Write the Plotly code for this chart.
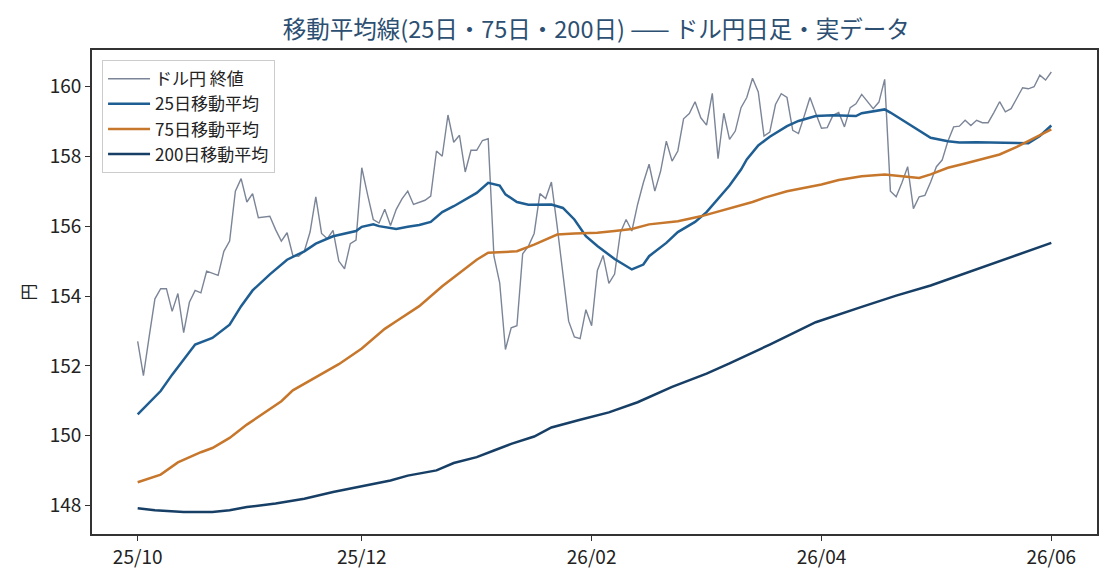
"""
Moving average chart for USD/JPY daily closes
25 / 75 / 200 day lines over the close
"""
import plotly.graph_objects as go

# ドル円 日足終値 (one value per trading day, 25/10 -> 26/06)
close = [
    152.70, 151.72, 152.84, 153.92, 154.21, 154.21, 153.56, 154.07, 152.95, 153.82,
    154.16, 154.09, 154.71, 154.64, 154.59, 155.28, 155.57, 157.00, 157.36, 156.69,
    156.93, 156.24, 156.25, 156.28, 155.90, 155.57, 155.81, 155.16, 155.14, 155.28,
    155.83, 156.84, 155.79, 155.64, 155.88, 155.00, 154.78, 155.50, 155.60, 157.67,
    156.91, 156.19, 156.09, 156.48, 156.02, 156.48, 156.78, 157.00, 156.62, 156.69,
    156.74, 156.86, 158.15, 158.00, 159.18, 158.40, 158.60, 157.55, 158.17, 158.17,
    158.45, 158.50, 155.14, 154.38, 152.47, 153.09, 153.15, 155.21, 155.43, 155.79,
    156.93, 156.79, 157.26, 156.00, 154.71, 153.28, 152.83, 152.78, 153.61, 153.15,
    154.73, 155.16, 154.36, 154.63, 155.81, 156.19, 155.86, 156.62, 157.24, 157.77,
    157.00, 157.57, 158.43, 157.86, 158.15, 159.07, 159.22, 159.56, 159.10, 158.89,
    159.80, 157.93, 159.23, 158.48, 158.72, 159.39, 159.68, 160.23, 159.84, 158.58,
    158.69, 159.48, 159.79, 159.68, 158.74, 158.65, 159.15, 159.68, 159.23, 158.80,
    158.82, 159.17, 159.25, 158.84, 159.39, 159.50, 159.77, 159.58, 159.36, 159.55,
    160.20, 157.00, 156.84, 157.24, 157.70, 156.50, 156.84, 156.88, 157.26, 157.70,
    157.89, 158.43, 158.84, 158.86, 159.03, 158.88, 159.03, 158.96, 158.96, 159.25,
    159.56, 159.27, 159.36, 159.66, 159.96, 159.93, 159.99, 160.32, 160.18, 160.41,
]

# 25日移動平均 (day index, value)
ma25_day = [0, 4, 6, 8, 10, 13, 16, 18, 20, 23, 26, 29, 31, 34, 36, 38, 39, 41, 42, 45,
            47, 49, 51, 53, 55, 57, 59, 61, 63, 64, 66, 68, 72, 74, 76, 78, 80, 83, 86, 88,
            89, 92, 94, 97, 99, 103, 105, 106, 108, 110, 113, 115, 118, 121, 125, 126, 128,
            130, 131, 133, 134, 136, 138, 141, 143, 146, 150, 153, 155, 157, 159]
ma25 = [150.61, 151.28, 151.75, 152.18, 152.61, 152.80, 153.18, 153.71, 154.16, 154.62,
        155.04, 155.28, 155.50, 155.71, 155.78, 155.86, 155.98, 156.05, 156.00, 155.92,
        155.98, 156.03, 156.12, 156.40, 156.57, 156.76, 156.95, 157.24, 157.16, 156.91,
        156.69, 156.61, 156.62, 156.52, 156.19, 155.71, 155.43, 155.06, 154.76, 154.90,
        155.14, 155.52, 155.83, 156.12, 156.40, 157.16, 157.62, 157.91, 158.31, 158.56,
        158.86, 159.01, 159.15, 159.17, 159.15, 159.23, 159.29, 159.34, 159.25, 159.05,
        158.94, 158.75, 158.53, 158.43, 158.39, 158.40, 158.39, 158.37, 158.37, 158.58,
        158.88]

# 75日移動平均
ma75_day = [0, 4, 7, 11, 13, 16, 19, 22, 25, 27, 30, 35, 39, 43, 45, 49, 53, 56, 59, 61,
            66, 69, 73, 76, 80, 83, 86, 89, 94, 98, 102, 107, 109, 113, 119, 122, 126, 130,
            133, 136, 138, 141, 144, 147, 150, 153, 156, 159]
ma75 = [148.67, 148.89, 149.24, 149.53, 149.65, 149.94, 150.32, 150.65, 150.99, 151.30,
        151.59, 152.05, 152.50, 153.06, 153.28, 153.71, 154.28, 154.66, 155.04, 155.24,
        155.28, 155.47, 155.76, 155.79, 155.81, 155.86, 155.92, 156.05, 156.14, 156.28,
        156.46, 156.69, 156.81, 157.00, 157.19, 157.32, 157.43, 157.48, 157.43, 157.38,
        157.48, 157.67, 157.79, 157.91, 158.05, 158.27, 158.51, 158.77]

# 200日移動平均
ma200_day = [0, 3, 8, 13, 16, 19, 24, 29, 34, 39, 44, 47, 52, 55, 59, 62, 65, 69, 72, 77,
             82, 87, 93, 99, 103, 110, 118, 126, 132, 138, 145, 152, 159]
ma200 = [147.93, 147.87, 147.82, 147.82, 147.87, 147.96, 148.06, 148.20, 148.39, 148.55,
         148.72, 148.86, 149.01, 149.22, 149.39, 149.58, 149.77, 149.98, 150.24, 150.46,
         150.67, 150.96, 151.40, 151.78, 152.07, 152.61, 153.25, 153.69, 154.01, 154.30,
         154.71, 155.12, 155.52]

tick_day = [0, 39, 79, 119, 159]
tick_text = ['25/10', '25/12', '26/02', '26/04', '26/06']

FONT = 'Noto Sans CJK JP'

days = list(range(len(close)))

fig = go.Figure()

fig.add_trace(go.Scatter(
    x=days, y=close, mode='lines', name='ドル円 終値',
    line=dict(color='#7b8597', width=1.4)
))
fig.add_trace(go.Scatter(
    x=ma25_day, y=ma25, mode='lines', name='25日移動平均',
    line=dict(color='#1f5e92', width=2.5)
))
fig.add_trace(go.Scatter(
    x=ma75_day, y=ma75, mode='lines', name='75日移動平均',
    line=dict(color='#c7772c', width=2.5)
))
fig.add_trace(go.Scatter(
    x=ma200_day, y=ma200, mode='lines', name='200日移動平均',
    line=dict(color='#173f66', width=2.5)
))

axis_style = dict(
    showline=True, mirror=True, linecolor='#333333', linewidth=1.6,
    showgrid=False, zeroline=False, automargin=False,
    ticks='outside', ticklen=5, tickwidth=1.3, tickcolor='#333333',
    tickfont=dict(size=19, color='#222222'),
)

# page has an 8px body margin, so the figure is 8px smaller than the window
fig.update_layout(
    width=1112,
    height=580,
    margin=dict(l=84, r=23, t=42, b=54),
    paper_bgcolor='white',
    plot_bgcolor='white',
    font=dict(family=FONT, size=17, color='#222222'),
    title=dict(
        text='移動平均線(25日・75日・200日) —— ドル円日足・実データ',
        x=0.529, xanchor='center', y=0.962, yanchor='middle',
        font=dict(size=23.5, color='#2c4f72')
    ),
    legend=dict(
        x=0.01, y=0.979, xanchor='left', yanchor='top',
        bgcolor='rgba(255,255,255,0.85)', bordercolor='#cccccc', borderwidth=1,
        font=dict(size=17, color='#222222'),
        itemwidth=42,
    ),
    showlegend=True,
)

fig.update_xaxes(
    range=[-7.95, 166.95],
    tickmode='array', tickvals=tick_day, ticktext=tick_text,
    **axis_style
)
fig.update_yaxes(
    range=[147.19, 161.04],
    tickmode='array', tickvals=[148, 150, 152, 154, 156, 158, 160],
    title=dict(text='円', font=dict(size=17), standoff=10),
    **axis_style
)

fig.write_html('out.html')
